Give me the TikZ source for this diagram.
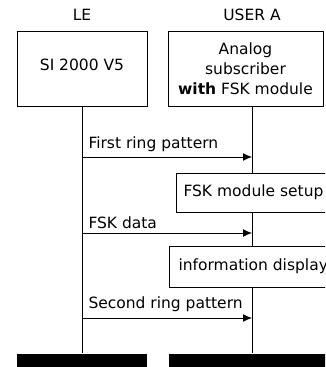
\documentclass[tikz,border=0pt]{standalone}
\usepackage{fontspec}
\setmainfont{DejaVu Sans}
\usetikzlibrary{arrows.meta, positioning}

\begin{document}
\begin{tikzpicture}[x=1pt, y=-1pt, line width=1pt,
    testo/.style={font=\fontsize{15.5}{20}\selectfont, inner sep=0pt},
    blocco/.style={draw, fill=white, font=\fontsize{15.5}{20}\selectfont, align=center, inner sep=0pt},
    barra/.style={fill=black, inner sep=0pt, minimum height=16pt},
    msg/.style={-{Latex[length=9pt, width=8pt]}}]
    % Parametri
    \pgfmathsetmacro{\xle}{82}
    \pgfmathsetmacro{\xua}{252}
    \clip (0,0) rectangle (325,367);
    % Intestazioni
    \node[testo, anchor=base] (tle) at (\xle,20) {LE};
    \node[testo, anchor=base] (tua) at (\xua,20) {USER A};
    % Blocchi
    \node[blocco, minimum width=130pt, minimum height=75pt, text depth=8pt] (le) at (\xle,68.5) {SI 2000 V5};
    \node[blocco, minimum width=155pt, minimum height=75pt] (ua) at (245.5,68.5) {Analog\\subscriber\\\textbf{with} FSK module};
    % Barre
    \node[barra, minimum width=130pt, anchor=north] (ble) at (\xle,353) {};
    \node[barra, minimum width=170pt, anchor=north west] (bua) at (168,353) {};
    % Linee di vita
    \draw (le.south) -- (ble.north);
    \draw (tua |- ua.south) -- (tua |- bua.north);
    % Attivita
    \node[blocco, anchor=west, minimum height=39pt, inner xsep=7pt] (fsk) at (176,192.5) {FSK module setup};
    \node[blocco, anchor=west, minimum height=41pt, inner xsep=9pt] (info) at (169,266.5) {information display};
    % Messaggi
    \coordinate (m1a) at (\xle,157);
    \coordinate (m1b) at (\xua,157);
    \coordinate (m2a) at (\xle,233);
    \coordinate (m2b) at (\xua,233);
    \coordinate (m3a) at (\xle,318);
    \coordinate (m3b) at (\xua,318);
    \draw[msg] (m1a) -- (m1b);
    \draw[msg] (m2a) -- (m2b);
    \draw[msg] (m3a) -- (m3b);
    \node[testo, anchor=base west] (l1) at (88,148) {First ring pattern};
    \node[testo, anchor=base west] (l2) at (88,228) {FSK data};
    \node[testo, anchor=base west] (l3) at (88,308) {Second ring pattern};
\end{tikzpicture}
\end{document}
